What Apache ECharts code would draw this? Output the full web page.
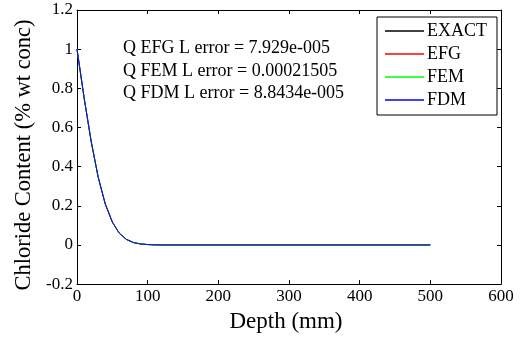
<!DOCTYPE html>
<html><head><meta charset="utf-8">
<script src="https://cdn.jsdelivr.net/npm/echarts@6/dist/echarts.min.js"></script>
<style>html,body{margin:0;padding:0;background:#fff}#c{width:520px;height:338px}</style>
</head><body><div id="c"></div>
<script>
const depth = [0,10,20,30,40,50,60,70,80,90,100,110,120,150,200,250,300,350,400,450,500];
const exact = [1,0.753,0.530,0.346,0.209,0.117,0.059,0.028,0.012,0.005,0.002,0.0005,0,0,0,0,0,0,0,0,0];
const efg   = [1,0.753,0.530,0.346,0.209,0.117,0.059,0.028,0.012,0.005,0.002,0.0005,0,0,0,0,0,0,0,0,0];
const fem   = [1,0.753,0.530,0.346,0.209,0.117,0.059,0.028,0.012,0.005,0.002,0.0005,0,0,0,0,0,0,0,0,0];
const fdm   = [1,0.753,0.530,0.346,0.209,0.117,0.059,0.028,0.012,0.005,0.002,0.0005,0,0,0,0,0,0,0,0,0];
const seriesNames = ['EXACT','EFG','FEM','FDM'];
const seriesColors = ['#000000','#ff0000','#00ff00','#0000ff'];
const notes = ['Q EFG L error = 7.929e-005','Q FEM L error = 0.00021505','Q FDM L error = 8.8434e-005'];
const xTitle = 'Depth (mm)';
const yTitle = 'Chloride Content (% wt conc)';

const FONT = '"Liberation Serif","Times New Roman",serif';
const chart = echarts.init(document.getElementById('c'));
const datas = [exact, efg, fem, fdm];
const axisCommon = {
  axisLine:{show:true,onZero:false,lineStyle:{color:'#000',width:1}},
  axisTick:{show:true,inside:true,length:4,lineStyle:{color:'#000'}},
  splitLine:{show:false}
};
chart.setOption({
  animation:false,
  grid:{left:77,right:19,top:10,bottom:51},
  xAxis:[
    Object.assign({type:'value',min:0,max:600,interval:100,position:'bottom',
      name:xTitle,nameLocation:'middle',nameGap:25,
      nameTextStyle:{fontFamily:FONT,fontSize:23,color:'#000',padding:[0,6,0,0]},
      axisLabel:{fontFamily:FONT,fontSize:17,color:'#000',margin:4}},axisCommon),
    Object.assign({type:'value',min:0,max:600,interval:100,position:'top',axisLabel:{show:false}},axisCommon)
  ],
  yAxis:[
    Object.assign({type:'value',min:-0.2,max:1.2,interval:0.2,position:'left',
      axisLabel:{fontFamily:FONT,fontSize:17,color:'#000',margin:4,
        formatter:v=>String(Math.round(v*10)/10)}},axisCommon),
    Object.assign({type:'value',min:-0.2,max:1.2,interval:0.2,position:'right',axisLabel:{show:false}},axisCommon)
  ],
  legend:{
    show:true,left:377,top:17,orient:'vertical',
    data:seriesNames.map(n=>({name:n})),
    icon:'rect',itemWidth:39,itemHeight:1.5,itemGap:5,
    borderColor:'#000',borderWidth:1,backgroundColor:'#fff',borderRadius:0,
    padding:[5,10,6,8],
    textStyle:{fontFamily:FONT,fontSize:18,color:'#000',padding:[0,0,0,-2]}
  },
  graphic: notes.map((t,i)=>({type:'text',left:123,top:[39,62,84][i],
    style:{text:t,font:'18px '+FONT,fill:'#000'}})).concat([{
      type:'text',x:24,y:155,rotation:Math.PI/2,
      style:{text:yTitle,font:'22.5px '+FONT,fill:'#000',align:'center',verticalAlign:'middle'}
    }]),
  series: seriesNames.map((n,i)=>({
    name:n,type:'line',showSymbol:false,symbol:'none',
    data:depth.map((d,j)=>[d,datas[i][j]]),
    lineStyle:{color:seriesColors[i],width:1},itemStyle:{color:seriesColors[i]}
  }))
});
</script></body></html>
